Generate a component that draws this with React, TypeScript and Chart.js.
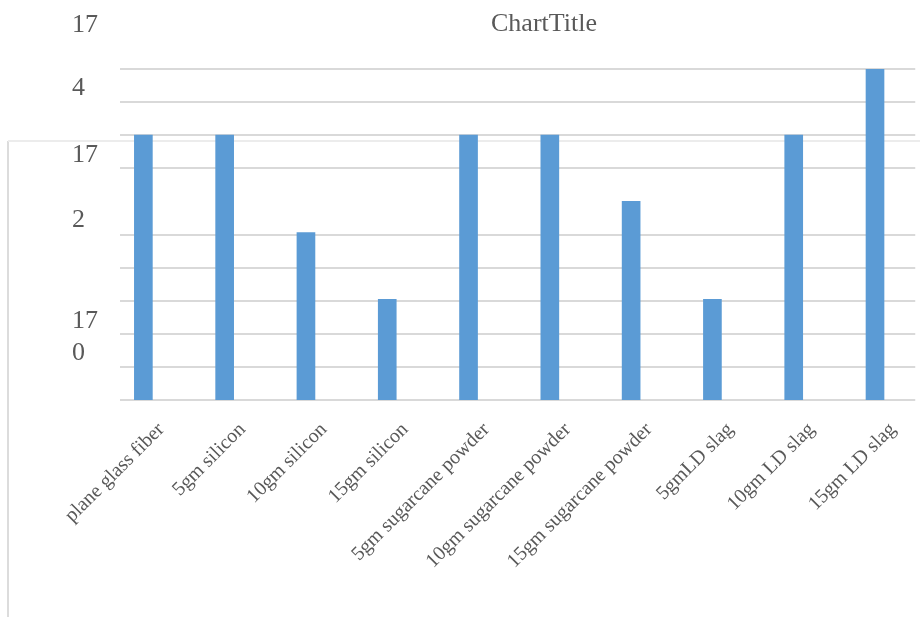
import React, { useEffect, useRef } from "react";
import { Chart, registerables } from "chart.js";

Chart.register(...registerables);

// ---- data ----
const categories = [
  "plane glass fiber",
  "5gm silicon",
  "10gm silicon",
  "15gm silicon",
  "5gm sugarcane powder",
  "10gm sugarcane powder",
  "15gm sugarcane powder",
  "5gmLD slag",
  "10gm LD slag",
  "15gm LD slag",
];
const values = [173, 173, 171.53, 170.52, 173, 173, 172, 170.52, 173, 174];
const yMin = 169;
const yMax = 174;
const yStep = 0.5;
const yLabelValues = [174, 172, 170];
const yLabelHead = ["17", "17", "17"];
const yLabelTail = ["4", "2", "0"];
const hiddenGridValue = 172;
const chartTitle = "ChartTitle";

// ---- layout / style constants ----
const X_MIN = -0.2874;
const X_MAX = 9.495;
const LABEL_SHIFT = 0.22;
const HEAD_OFFSETS = [-37, -39, -6];
const TAIL_OFFSET = 26;
const SERIF = "'Liberation Serif', 'Times New Roman', serif";
const TEXT = "#595959";
const GRID = "#d9d9d9";
const BAR = "#5b9bd5";

const decor = {
  id: "decor",
  beforeDraw(chart: any) {
    const { ctx } = chart;
    ctx.save();
    ctx.lineWidth = 2;
    ctx.strokeStyle = "#dcdcdc";
    ctx.beginPath();
    ctx.moveTo(8, chart.height);
    ctx.lineTo(8, 141);
    ctx.stroke();
    ctx.strokeStyle = "#ececec";
    ctx.beginPath();
    ctx.moveTo(8, 141);
    ctx.lineTo(chart.width, 141);
    ctx.stroke();
    ctx.restore();
  },
  afterDraw(chart: any) {
    const { ctx } = chart;
    const y = chart.scales.y;
    ctx.save();
    ctx.fillStyle = TEXT;
    ctx.font = `26px ${SERIF}`;
    ctx.textBaseline = "alphabetic";
    ctx.textAlign = "center";
    ctx.fillText(chartTitle, 544, 31);
    ctx.textAlign = "left";
    yLabelValues.forEach((v, i) => {
      const p = y.getPixelForValue(v);
      ctx.fillText(yLabelHead[i], 72, p + HEAD_OFFSETS[i]);
      ctx.fillText(yLabelTail[i], 72, p + TAIL_OFFSET);
    });
    ctx.restore();
  },
};

export default function App() {
  const ref = useRef<HTMLCanvasElement | null>(null);

  useEffect(() => {
    document.body.style.margin = "0";
    document.body.style.overflow = "hidden";
    const canvas = ref.current;
    if (!canvas) return;
    const chart = new Chart(canvas, {
      type: "bar",
      data: {
        labels: categories,
        datasets: [
          {
            data: values.map((v, i) => ({ x: i, y: v })),
            backgroundColor: BAR,
            borderWidth: 0,
            barThickness: 18,
            xAxisID: "x",
            yAxisID: "y",
          },
        ],
      },
      options: {
        responsive: false,
        animation: false,
        devicePixelRatio: 1,
        layout: { padding: { top: 69, left: 0, right: 0, bottom: 0 } },
        plugins: {
          legend: { display: false },
          title: { display: false },
          tooltip: { enabled: false },
        },
        scales: {
          x: {
            type: "linear",
            display: false,
            offset: false,
            grid: { offset: false },
            min: X_MIN,
            max: X_MAX,
          },
          xl: {
            type: "linear",
            position: "bottom",
            offset: false,
            min: X_MIN - LABEL_SHIFT,
            max: X_MAX - LABEL_SHIFT,
            grid: { display: false, offset: false },
            border: { display: false },
            afterBuildTicks: (scale: any) => {
              scale.ticks = categories.map((_, i) => ({ value: i }));
            },
            afterFit: (scale: any) => {
              scale.height = 217;
            },
            ticks: {
              minRotation: 45,
              maxRotation: 45,
              autoSkip: false,
              padding: 10,
              color: TEXT,
              font: { family: SERIF, size: 20 },
              callback: (v: any) => categories[Math.round(Number(v))] ?? "",
            },
          },
          y: {
            type: "linear",
            min: yMin,
            max: yMax,
            border: { display: false },
            grid: {
              drawTicks: false,
              lineWidth: 2,
              color: (c: any) =>
                c.tick && c.tick.value === hiddenGridValue ? "rgba(0,0,0,0)" : GRID,
            },
            ticks: { display: false, stepSize: yStep },
            afterFit: (scale: any) => {
              scale.width = 120;
            },
          },
        },
      },
      plugins: [decor],
    });
    return () => chart.destroy();
  }, []);

  return (
    <div style={{ width: 920, height: 617, position: "relative", background: "#fff" }}>
      <canvas ref={ref} width={920} height={617} style={{ display: "block" }} />
    </div>
  );
}
